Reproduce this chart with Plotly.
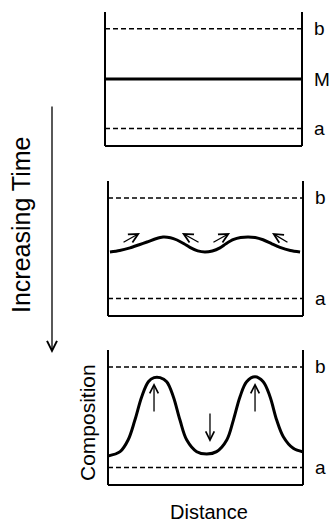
import plotly.graph_objects as go

W, H = 332, 523

# ---- data ----
LEVEL_A = 0.13
LEVEL_B = 0.875
LEVEL_M = 0.5
EXTENT = [0.0, 1.0]

# stage 2: small-amplitude fluctuation
wave_x = [0.01, 0.06, 0.113, 0.16, 0.2, 0.245, 0.282, 0.32, 0.354, 0.39, 0.42, 0.46, 0.497,
          0.535, 0.574, 0.605, 0.641, 0.68, 0.718, 0.755, 0.795, 0.84, 0.882, 0.935, 0.985]
wave_y = [0.474, 0.485, 0.505, 0.528, 0.548, 0.572, 0.585, 0.58, 0.563, 0.535, 0.508, 0.482, 0.474,
          0.482, 0.505, 0.535, 0.565, 0.582, 0.585, 0.582, 0.565, 0.535, 0.508, 0.485, 0.474]
# arrows on stage 2 (tail -> head)
arr2_tail_x = [0.072, 0.472, 0.533, 0.928]
arr2_tail_y = [0.54, 0.54, 0.54, 0.54]
arr2_head_x = [0.164, 0.379, 0.626, 0.841]
arr2_head_y = [0.615, 0.615, 0.615, 0.615]

# stage 3: grown fluctuation
grow_x = [0.0, 0.062, 0.103, 0.138, 0.173, 0.207, 0.236, 0.267, 0.301, 0.335, 0.369, 0.404,
          0.455, 0.506, 0.557, 0.609, 0.643, 0.677, 0.711, 0.754, 0.796, 0.831, 0.865,
          0.899, 0.95, 0.998]
grow_y = [0.215, 0.247, 0.333, 0.481, 0.654, 0.765, 0.795, 0.795, 0.765, 0.654, 0.481, 0.333,
          0.247, 0.23, 0.247, 0.333, 0.481, 0.654, 0.765, 0.802, 0.765, 0.654, 0.481,
          0.358, 0.272, 0.247]
arr3_tail_x = [0.236, 0.523, 0.754]
arr3_tail_y = [0.533, 0.541, 0.533]
arr3_head_x = [0.236, 0.523, 0.754]
arr3_head_y = [0.756, 0.319, 0.756]

LEVEL_LABELS = ["b", "M", "a"]
TIME_LABEL = "Increasing Time"
X_LABEL = "Distance"
Y_LABEL = "Composition"

FONT = "Liberation Sans, Arial, sans-serif"

fig = go.Figure()

# panel geometry (pixels)
panels = {
    1: dict(x0=105, x1=302, top=12, bottom=146),
    2: dict(x0=108, x1=303, top=181, bottom=316),
    3: dict(x0=108, x1=303, top=350, bottom=485),
}

layout = dict(width=W, height=H, margin=dict(l=0, r=0, t=0, b=0),
              paper_bgcolor="white", plot_bgcolor="white", showlegend=False)

for i, p in panels.items():
    xs = "" if i == 1 else str(i)
    layout[f"xaxis{xs}"] = dict(domain=[p["x0"] / W, p["x1"] / W], range=[0, 1],
                                visible=False, fixedrange=True, anchor=f"y{xs}")
    layout[f"yaxis{xs}"] = dict(domain=[(H - p["bottom"]) / H, (H - p["top"]) / H],
                                range=[0, 1], visible=False, fixedrange=True, anchor=f"x{xs}")

fig.update_layout(**layout)

shapes = []
annotations = []

def add_frame(i):
    xs = "" if i == 1 else str(i)
    xr, yr = f"x{xs} domain", f"y{xs} domain"
    line = dict(color="black", width=2)
    shapes.append(dict(type="line", xref=xr, yref=yr, x0=0, x1=0, y0=0, y1=1, line=line))
    shapes.append(dict(type="line", xref=xr, yref=yr, x0=1, x1=1, y0=0, y1=1, line=line))
    shapes.append(dict(type="line", xref=xr, yref=yr, x0=0, x1=1, y0=0, y1=0, line=line))

def add_levels(i, with_m=False):
    xs = "" if i == 1 else str(i)
    dash = dict(color="black", width=1.5, dash="5px,3px")
    for lvl in (LEVEL_B, LEVEL_A):
        fig.add_trace(go.Scatter(x=EXTENT, y=[lvl, lvl], mode="lines", line=dash,
                                 xaxis=f"x{xs}", yaxis=f"y{xs}", hoverinfo="skip"))
    levels = [(LEVEL_B, LEVEL_LABELS[0]), (LEVEL_A, LEVEL_LABELS[2])]
    if with_m:
        levels.insert(1, (LEVEL_M, LEVEL_LABELS[1]))
    for lvl, lab in levels:
        annotations.append(dict(xref=f"x{xs} domain", yref=f"y{xs}", x=1.05, y=lvl,
                                text=lab, showarrow=False, xanchor="left", yanchor="middle",
                                font=dict(family=FONT, size=19, color="black")))

for i in panels:
    add_frame(i)

# panel 1
add_levels(1, with_m=True)
fig.add_trace(go.Scatter(x=EXTENT, y=[LEVEL_M, LEVEL_M], mode="lines",
                         line=dict(color="black", width=3), xaxis="x", yaxis="y",
                         hoverinfo="skip"))

# panel 2
add_levels(2)
fig.add_trace(go.Scatter(x=wave_x, y=wave_y, mode="lines",
                         line=dict(color="black", width=3, shape="spline", smoothing=0.8),
                         xaxis="x2", yaxis="y2", hoverinfo="skip"))
for tx, ty, hx, hy in zip(arr2_tail_x, arr2_tail_y, arr2_head_x, arr2_head_y):
    annotations.append(dict(xref="x2", yref="y2", axref="x2", ayref="y2",
                            x=hx, y=hy, ax=tx, ay=ty, text="", showarrow=True,
                            arrowhead=5, arrowsize=1.4, arrowwidth=1.3, arrowcolor="black"))

# panel 3
add_levels(3)
fig.add_trace(go.Scatter(x=grow_x, y=grow_y, mode="lines",
                         line=dict(color="black", width=3, shape="spline", smoothing=1.0),
                         xaxis="x3", yaxis="y3", hoverinfo="skip"))
for tx, ty, hx, hy in zip(arr3_tail_x, arr3_tail_y, arr3_head_x, arr3_head_y):
    annotations.append(dict(xref="x3", yref="y3", axref="x3", ayref="y3",
                            x=hx, y=hy, ax=tx, ay=ty, text="", showarrow=True,
                            arrowhead=5, arrowsize=1.3, arrowwidth=1.3, arrowcolor="black"))

# big time arrow
annotations.append(dict(xref="paper", yref="paper", x=52 / W, y=(H - 353) / H,
                        ax=0, ay=-248, text="", showarrow=True, arrowhead=5,
                        arrowsize=1.5, arrowwidth=1.3, arrowcolor="black"))
annotations.append(dict(xref="paper", yref="paper", x=21 / W, y=(H - 225) / H,
                        xanchor="center", yanchor="middle",
                        text=TIME_LABEL, showarrow=False, textangle=-90,
                        font=dict(family=FONT, size=25, color="black")))
annotations.append(dict(xref="paper", yref="paper", x=87 / W, y=(H - 423) / H,
                        xanchor="center", yanchor="middle",
                        text=Y_LABEL, showarrow=False, textangle=-90,
                        font=dict(family=FONT, size=21, color="black")))
annotations.append(dict(xref="paper", yref="paper", x=209 / W, y=(H - 512) / H,
                        xanchor="center", yanchor="middle",
                        text=X_LABEL, showarrow=False,
                        font=dict(family=FONT, size=20, color="black")))

fig.update_layout(shapes=shapes, annotations=annotations)
fig.write_html("out.html", config={"displayModeBar": False},
               post_script="document.body.style.margin='0';document.body.style.overflow='hidden';")
